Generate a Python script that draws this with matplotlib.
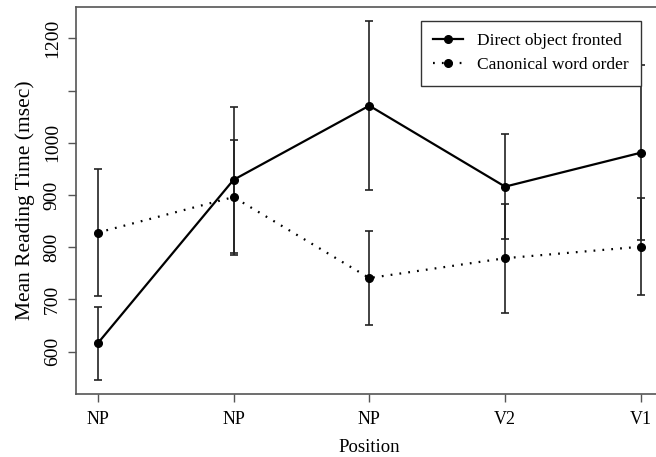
import matplotlib
matplotlib.use("Agg")
import matplotlib.pyplot as plt
import numpy as np

positions = ["NP", "NP", "NP", "V2", "V1"]
direct = [616, 929, 1071, 916, 981]
direct_err = [70, 140, 162, 101, 168]
canonical = [828, 896, 741, 779, 801]
canonical_err = [122, 110, 90, 104, 93]
yticks = [600, 700, 800, 900, 1000, 1100, 1200]
ytick_labels = ["600", "700", "800", "900", "1000", "", "1200"]

plt.rcParams['font.family'] = ['Liberation Serif', 'DejaVu Serif']

W, H = 656, 457
fig = plt.figure(figsize=(W / 100, H / 100), dpi=100)
ax = fig.add_axes([76 / W, 1 - 394 / H, 586.6 / W, 387.3 / H])

x = np.arange(1, len(positions) + 1)
frame_col = '#555555'
err_col = '#222222'

ax.plot(x, direct, '-', color='black', lw=1.6, marker='o', ms=5.5,
        label='Direct object fronted', zorder=3)
ax.plot(x, canonical, color='black', lw=1.6, linestyle=(0, (0.8, 3.2)),
        marker='o', ms=5.5, label='Canonical word order', zorder=3)
ax.errorbar(x, direct, yerr=direct_err, fmt='none', ecolor=err_col,
            elinewidth=1.2, capsize=3, capthick=1.2, zorder=2)
ax.errorbar(x, canonical, yerr=canonical_err, fmt='none', ecolor=err_col,
            elinewidth=1.2, capsize=3, capthick=1.2, zorder=2)

ax.set_xlim(0.84, 5.16)
ax.set_ylim(519, 1260.5)
ax.set_xticks(x)
ax.set_xticklabels(positions, fontsize=13)
ax.set_yticks(yticks)
ax.set_yticklabels(ytick_labels, fontsize=14, rotation=90, va='center')
ax.tick_params(axis='both', direction='out', length=6, width=1, color=frame_col)
ax.tick_params(axis='y', pad=5)
ax.tick_params(axis='x', pad=6)
for s in ax.spines.values():
    s.set_color(frame_col)
    s.set_linewidth(1.2)

ax.set_xlabel('Position', fontsize=13.5, labelpad=8)
ax.set_ylabel('Mean Reading Time (msec)', fontsize=15.5, labelpad=6)

leg = ax.legend(loc='upper right', bbox_to_anchor=(5, 1233.5),
                bbox_transform=ax.transData, borderaxespad=0,
                fontsize=12.5, handlelength=1.7, handletextpad=0.8,
                labelspacing=0.45, borderpad=0.72, fancybox=False,
                framealpha=1, edgecolor='black')
leg.get_frame().set_linewidth(1.0)
leg.get_frame().set_edgecolor('#333333')

fig.savefig('out.png', dpi=100)
